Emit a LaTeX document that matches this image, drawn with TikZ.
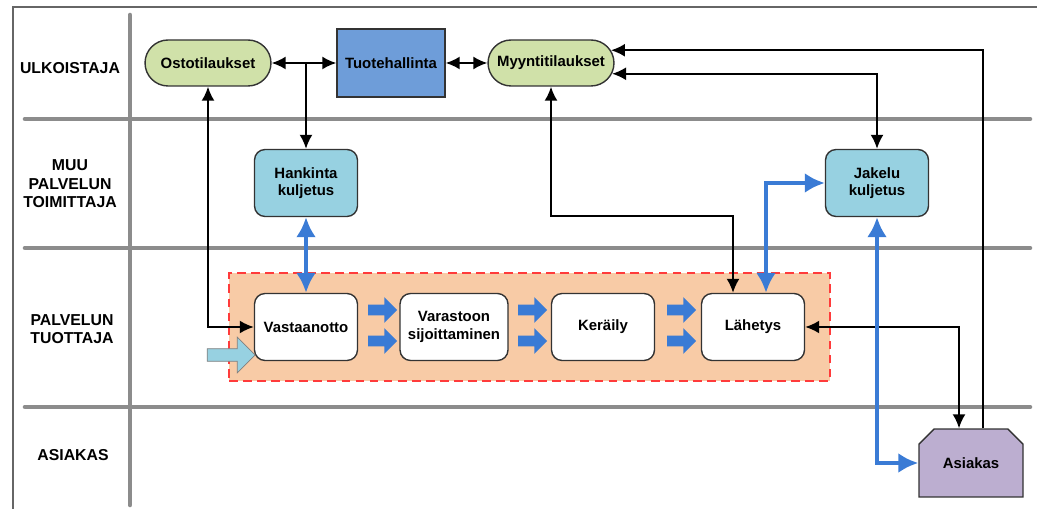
\documentclass[tikz,border=0pt]{standalone}
\usepackage{fontspec}
\setmainfont{Liberation Sans}
\usepackage{xcolor}
\usepackage{tikz}
\usetikzlibrary{arrows.meta,shapes.misc,shapes.arrows}

\definecolor{lanegray}{HTML}{8C8C8C}
\definecolor{tilausgreen}{HTML}{D0E1A9}
\definecolor{hallintablue}{HTML}{6E9DD9}
\definecolor{kuljetuscyan}{HTML}{97D1E1}
\definecolor{tuotantoorange}{HTML}{F8CBA6}
\definecolor{tuotantored}{HTML}{FF3B3B}
\definecolor{asiakaspurple}{HTML}{BCAED0}
\definecolor{flowblue}{HTML}{3A7BD5}

\begin{document}
\begin{tikzpicture}[x=0.02cm, y=-0.02cm,
      lane/.style={line width=2.6pt, draw=lanegray, line cap=round},
      lanelabel/.style={font=\fontsize{9}{10.5}\selectfont\bfseries, align=center},
      box/.style={draw=black!80, line width=0.8pt, align=center, inner sep=2pt,
                  font=\fontsize{8.5}{10}\selectfont\bfseries},
      tilaus/.style={box, rounded rectangle, fill=tilausgreen, minimum width=2.66cm, minimum height=0.92cm},
      hallinta/.style={box, rectangle, fill=hallintablue, minimum width=2.16cm, minimum height=1.36cm},
      kuljetus/.style={box, rounded corners=6pt, fill=kuljetuscyan, minimum width=2.06cm, minimum height=1.34cm},
      vaihe/.style={box, rounded corners=6pt, fill=white, minimum width=2.06cm, minimum height=1.34cm},
      asiakas/.style={box, chamfered rectangle, chamfered rectangle corners={north west,north east},
                  chamfered rectangle xsep=0.3cm, fill=asiakaspurple, minimum width=2.08cm, minimum height=1.36cm},
      tuotanto/.style={draw=tuotantored, fill=tuotantoorange, dashed, dash pattern=on 5pt off 3pt,
                  line width=0.8pt, minimum width=12.02cm, minimum height=2.16cm},
      flow/.style={single arrow, fill=flowblue, inner xsep=0pt, inner ysep=0.1cm, minimum height=0.58cm,
                  single arrow head extend=0.15cm, single arrow head indent=0pt},
      syote/.style={single arrow, fill=kuljetuscyan, draw=gray, line width=0.4pt, inner xsep=0pt,
                  inner ysep=0.12cm, minimum height=0.96cm, single arrow head extend=0.23cm},
      link/.style={line width=1.1pt, >={Latex[length=0.28cm,width=0.26cm]}},
      bluelink/.style={line width=2.3pt, draw=flowblue, >={Latex[length=0.4cm,width=0.4cm]}},
    ]
    \useasboundingbox (0,0) rectangle (1037,509);

    % Frame and lanes
    \draw[draw=black!60, line width=0.8pt] (13,509) -- (13,7) -- (1037,7);
    \draw[lane] (130,15) -- (130,505);
    \draw[lane] (25,119) -- (1030,119);
    \draw[lane] (25,248) -- (1030,248);
    \draw[lane] (25,407) -- (1030,407);

    % Lane labels
    \node[lanelabel] (l1) at (70,68) {ULKOISTAJA};
    \node[lanelabel] (l2) at (70,184) {MUU\\PALVELUN\\TOIMITTAJA};
    \node[lanelabel] (l3) at (72,329) {PALVELUN\\TUOTTAJA};
    \node[lanelabel] (l4) at (73,455) {ASIAKAS};

    % Production area
    \node[tuotanto] (tuot) at (529.5,327) {};

    % Top row
    \node[tilaus] (osto) at (208,63) {Ostotilaukset};
    \node[hallinta] (tuote) at (391,63) {Tuotehallinta};
    \node[tilaus] (myynti) at (551,63) {Myyntitilaukset};

    % Transport
    \node[kuljetus] (hank) at (306,183) {Hankinta\\kuljetus};
    \node[kuljetus] (jakelu) at (877,183) {Jakelu\\kuljetus};

    % Process steps
    \node[vaihe] (vast) at (306,327) {Vastaanotto};
    \node[vaihe, minimum width=2.16cm] (varasto) at (454,327) {Varastoon\\sijoittaminen};
    \node[vaihe] (kerays) at (603,327) {Keräily};
    \node[vaihe] (lah) at (753,327) {Lähetys};

    % Customer
    \node[asiakas] (asiakas) at (971,463) {Asiakas};

    % Flow arrows
    \node[flow] (f1a) at (380,310) {};
    \node[flow] (f1b) at (380,341) {};
    \node[flow] (f2a) at (530,310) {};
    \node[flow] (f2b) at (530,341) {};
    \node[flow] (f3a) at (679,310) {};
    \node[flow] (f3b) at (679,341) {};
    \node[syote] (syote) at (228,355) {};

    % Arrows
    \draw[link,<->] (osto) -- (tuote);
    \draw[link,->] (osto.east -| hank.north) -- (hank);
    \draw[link,<->] (tuote) -- (myynti);
    \draw[link,<->] (osto.south) |- (vast.west);
    \coordinate (myyntikulma) at (733,216);
    \draw[link,<->] (myynti.south) |- (myyntikulma) -- (myyntikulma |- lah.north);
    \draw[link,<->] (jakelu.north) |- (myynti.-10);
    \draw[link,->] ([xshift=0.24cm]asiakas.north) |- (myynti.12);
    \draw[link,<->] (lah.east) -| ([xshift=-0.24cm]asiakas.north);
    \draw[bluelink,<->] (hank) -- (vast);
    \draw[bluelink,<->] ([xshift=0.26cm]lah.north) |- (jakelu.west);
    \draw[bluelink,<->] (jakelu.south) |- (asiakas.west);

  \end{tikzpicture}
\end{document}
